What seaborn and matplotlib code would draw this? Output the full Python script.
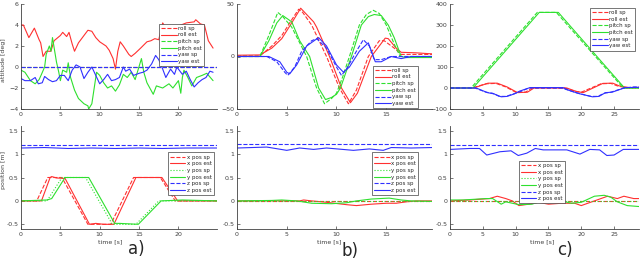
import matplotlib
matplotlib.use("Agg")
import matplotlib.pyplot as plt
import seaborn as sns

# --- Data (time [s], value) ---
# a) attitude [deg]
A_ROLL_SP = [(0, 0), (24.9, 0)]
A_ROLL_EST = [(0, 4.0), (0.3, 4.0), (1.0, 2.8), (1.7, 3.7), (2.3, 2.6), (2.5, 2.3), (2.8, 1.0), (3.2, 1.5),
              (3.8, 1.5), (4.2, 2.5), (5.0, 3.0), (5.3, 3.3), (5.8, 2.9), (6.1, 3.3), (6.5, 2.2), (6.8, 1.5),
              (7.3, 2.3), (8.0, 3.0), (8.5, 3.5), (9.0, 3.4), (9.5, 2.8), (10.0, 2.4), (10.8, 2.0), (11.2, 1.6),
              (11.7, 0.8), (12.0, -0.2), (12.3, 1.5), (12.6, 2.4), (13.0, 2.0), (13.7, 1.2), (14.0, 1.0),
              (14.5, 1.3), (15.2, 1.8), (16.0, 2.4), (16.5, 2.5), (17.0, 2.7), (17.5, 2.6), (18.0, 4.2),
              (18.5, 3.6), (19.0, 3.8), (20.0, 3.9), (21.0, 4.2), (22.0, 4.3), (22.2, 4.5), (22.8, 4.1),
              (23.3, 4.0), (23.8, 2.5), (24.4, 1.8)]
A_PITCH_SP = [(0, 0), (24.9, 0)]
A_PITCH_EST = [(0, -0.3), (0.5, -0.5), (1.2, -1.3), (1.8, -1.6), (2.3, -1.2), (2.6, -0.7), (3.0, 0.0), (3.2, 1.2),
               (3.6, 2.0), (3.8, 1.5), (4.0, 2.8), (4.5, 0.5), (4.8, -0.5), (5.0, -1.3), (5.3, -0.3), (5.8, -0.5),
               (6.0, 0.4), (6.3, -1.0), (6.8, -2.2), (7.3, -3.0), (8.0, -3.5), (8.5, -3.7), (8.6, -4.0),
               (9.0, -3.5), (9.2, -2.5), (9.4, -1.5), (9.6, -0.5), (10.0, -0.8), (10.5, -1.5), (11.0, -2.0),
               (11.5, -1.8), (12.0, -2.3), (12.5, -1.7), (13.0, -0.7), (13.5, -1.0), (14.0, -0.5), (14.5, -1.2),
               (15.3, 0.8), (15.6, -0.5), (16.0, -1.5), (16.8, -2.6), (17.2, -1.8), (18.0, -2.0), (18.8, -1.6),
               (19.3, -2.0), (20.0, -1.3), (20.3, -2.5), (20.5, -1.0), (20.7, -0.3), (21.2, -1.0), (21.7, -1.8),
               (22.3, -1.0), (23.0, -0.8), (23.6, -0.6), (24.4, -1.3)]
A_YAW_SP = [(0, 0), (24.9, 0)]
A_YAW_EST = [(0, -1.1), (0.5, -1.3), (1.2, -1.3), (1.8, -1.0), (2.2, -1.6), (2.7, -1.5), (3.0, -0.9), (3.5, -1.2),
             (4.0, -1.4), (4.5, -1.3), (5.0, -0.8), (5.5, -0.8), (6.0, -1.3), (6.5, -0.3), (7.0, 0.2), (7.5, 0.0),
             (8.0, -1.1), (8.5, -0.5), (9.0, 0.0), (9.5, -0.8), (10.0, -1.6), (10.5, -1.2), (11.0, -0.7),
             (11.5, -1.3), (12.0, -1.2), (12.5, -1.0), (13.0, 0.0), (13.3, -0.4), (13.8, -0.2), (14.3, -0.8),
             (15.0, -0.6), (15.5, -0.5), (16.0, -0.3), (16.6, 0.3), (17.1, 1.1), (17.5, 0.7), (18.0, -0.2),
             (18.4, -1.0), (19.0, -0.2), (19.5, -0.7), (19.8, 0.0), (20.5, -0.7), (21.0, -0.4), (21.5, -1.2),
             (22.0, -1.9), (22.5, -1.5), (23.0, -1.2), (23.5, -1.0), (24.0, -0.4), (24.4, -0.5)]

# b) attitude [deg]
B_ROLL_SP = [(0, 0.5), (2.3, 0.5), (3.5, 10), (4.5, 20), (5.5, 35), (6.2, 45), (6.6, 42), (7.5, 30), (9.0, 0),
             (10.3, -30), (11.2, -45), (12.0, -32), (13.2, 0), (14.3, 15), (14.8, 15), (15.8, 8), (16.5, 2),
             (19.6, 2)]
B_ROLL_EST = [(0, 1.2), (2.3, 1.5), (3.5, 8), (4.5, 17), (5.5, 32), (6.4, 46), (7.0, 40), (7.7, 33), (8.0, 28),
              (9.3, 0), (10.5, -30), (11.4, -44), (12.1, -35), (13.5, 0), (14.9, 17.5), (15.2, 17), (16.0, 8),
              (16.5, 4), (18.0, 3.5), (19.6, 2.5)]
B_PITCH_SP = [(0, 0), (2.3, 0), (3.2, 20), (4.1, 42), (4.6, 38), (5.5, 28), (7.0, 0), (8.0, -30), (8.8, -45),
              (9.5, -40), (10.0, -35), (10.6, -20), (11.3, 0), (12.3, 30), (13.0, 40), (13.7, 44), (14.3, 41),
              (15.0, 30), (15.8, 12), (16.4, 0), (19.6, 0)]
B_PITCH_EST = [(0, 0), (2.3, 0), (3.2, 15), (4.0, 32), (4.6, 39), (5.5, 33), (6.3, 15), (7.3, 0), (8.2, -30),
               (8.9, -41), (9.5, -39), (10.0, -36), (10.4, -30), (11.5, 0), (12.5, 30), (13.2, 38), (13.8, 40),
               (14.5, 39), (15.2, 30), (15.8, 18), (16.5, 0), (17.0, -1), (19.6, -1)]
B_YAW_SP = [(0, 0), (3.0, 0), (4.0, -5), (4.8, -15), (5.1, -18), (5.8, -10), (6.5, 5), (7.5, 15), (8.0, 17),
            (9.0, 8), (10.0, -10), (10.5, -18), (11.0, -12), (12.0, 5), (12.7, 16), (13.3, 10), (13.8, -3),
            (14.5, -3), (15.5, 0), (19.6, 0)]
B_YAW_EST = [(0, 0), (3.2, 0), (4.3, -5), (5.0, -15), (5.3, -16.5), (6.0, -8), (7.0, 10), (8.2, 18), (9.0, 10),
             (10.0, -8), (10.7, -15), (11.3, -10), (12.3, 5), (13.2, 13), (13.9, -5), (14.5, -5), (15.5, 0),
             (16.5, -2), (17.5, 0), (19.6, 0)]

# c) attitude [deg]
C_ROLL_SP = [(0, 0), (3.3, 0), (5.5, 20), (7.0, 22), (8.5, 5), (10.0, -20), (11.5, -20), (12.5, 0), (17.5, 0),
             (19.0, -15), (20.0, -20), (21.5, 0), (23.0, 20), (24.5, 22), (25.5, 10), (27.0, 0), (28.8, 0)]
C_ROLL_EST = [(0, 0), (3.6, 0), (5.8, 23), (7.2, 23), (8.7, 5), (10.3, -22), (11.8, -20), (12.8, 0), (17.8, 0),
              (19.3, -17), (20.3, -22), (21.8, 0), (23.3, 22), (24.8, 23), (25.8, 10), (27.3, 2), (28.8, 3)]
C_PITCH_SP = [(0, 0), (3.2, 0), (13.3, 360), (16.2, 360), (26.4, 0), (28.8, 0)]
C_PITCH_EST = [(0, 0), (3.5, 0), (13.6, 360), (16.5, 360), (26.6, 0), (28.8, 0)]
C_YAW_SP = [(0, 0), (3.8, 0), (5.5, -20), (6.5, -25), (7.5, -40), (8.5, -40), (9.5, -30), (10.5, -20), (12.0, 0),
            (17.0, 0), (18.0, -10), (19.5, -25), (21.5, -40), (22.5, -40), (23.5, -25), (24.5, -20), (26.5, 0),
            (28.0, 5), (28.8, 5)]
C_YAW_EST = [(0, 0), (4.0, 0), (5.7, -22), (6.7, -28), (7.8, -42), (8.7, -40), (9.8, -28), (10.6, -15), (12.2, 2),
             (17.2, 2), (18.2, -12), (19.7, -27), (21.7, -42), (22.7, -40), (23.7, -22), (24.7, -20), (26.7, 2),
             (28.8, 3)]

# a) position [m]
PA_X_SP = [(0, 0), (2.0, 0), (3.4, 0.5), (5.2, 0.5), (8.5, -0.5), (11.4, -0.5), (14.3, 0.5), (17.7, 0.5),
           (19.6, 0), (24.9, 0)]
PA_X_EST = [(0, 0), (2.6, 0), (3.7, 0.5), (3.9, 0.52), (4.5, 0.49), (5.6, 0.48), (8.7, -0.5), (9.5, -0.48),
            (10.5, -0.5), (11.8, -0.5), (14.6, 0.5), (17.9, 0.5), (19.9, 0), (24.9, 0)]
PA_Y_SP = [(0, 0), (3.3, 0), (5.2, 0.5), (8.2, 0.5), (11.6, -0.5), (14.6, -0.5), (17.5, 0), (24.9, 0)]
PA_Y_EST = [(0, 0), (3.3, 0.02), (3.9, 0.05), (5.6, 0.5), (8.6, 0.5), (11.9, -0.48), (12.5, -0.48),
            (14.9, -0.5), (17.8, 0), (20.5, 0.02), (24.9, 0)]
PA_Z_SP = [(0, 1.2), (24.9, 1.2)]
PA_Z_EST = [(0, 1.13), (3, 1.14), (6, 1.12), (9, 1.13), (12, 1.12), (15, 1.13), (18, 1.12), (21, 1.13),
            (24.9, 1.13)]

# b) position [m]
PB_X_SP = [(0, 0), (19.6, 0)]
PB_X_EST = [(0, 0), (6.3, 0), (6.7, 0.02), (7.5, 0), (9, -0.03), (11, -0.08), (12, -0.1), (13.5, -0.07),
            (15, -0.05), (16, -0.05), (17, -0.02), (18, 0), (19.6, 0)]
PB_Y_SP = [(0, 0), (19.6, 0)]
PB_Y_EST = [(0, 0), (3.5, 0.01), (4.5, 0.02), (6, 0), (7.5, -0.05), (9.5, -0.06), (11, -0.04), (12, 0),
            (13.5, 0.04), (15.3, 0.06), (16.5, 0.02), (17.5, 0), (19.6, -0.01)]
PB_Z_SP = [(0, 1.21), (19.6, 1.21)]
PB_Z_EST = [(0, 1.13), (3.0, 1.15), (5.0, 1.08), (6.3, 1.13), (7.7, 1.1), (9.0, 1.13), (11.7, 1.08),
            (13.3, 1.11), (14.7, 1.08), (15.5, 1.14), (17.5, 1.13), (19.6, 1.14)]

# c) position [m]
PC_X_SP = [(0, 0), (28.8, 0)]
PC_X_EST = [(0, 0), (3, 0.02), (6, 0.05), (7.2, 0.1), (8.5, 0.05), (9.5, 0), (10.5, -0.1), (12, -0.07),
            (13.5, -0.03), (15, -0.07), (17, -0.05), (19, -0.05), (20, -0.1), (21, -0.05), (22, 0), (23, 0.05),
            (24, 0.1), (25.5, 0.05), (26.5, 0.1), (28, 0.05), (28.8, 0.05)]
PC_Y_SP = [(0, 0), (28.8, 0)]
PC_Y_EST = [(0, 0.02), (2, 0.02), (5.5, 0.05), (6.5, 0.05), (7.8, -0.07), (8.5, -0.02), (9.5, -0.05),
            (10.5, -0.08), (12.5, -0.07), (14, 0), (15, 0.02), (17, 0), (18.5, -0.05), (20, -0.03), (22, 0.1),
            (23.5, 0.12), (24.5, 0.08), (25.5, -0.02), (27, -0.1), (28.8, -0.12)]
PC_Z_SP = [(0, 1.19), (28.8, 1.19)]
PC_Z_EST = [(0, 1.1), (3, 1.12), (4.5, 1.12), (5.6, 0.98), (7.6, 1.05), (9.3, 1.07), (10.4, 0.97), (11.7, 1.02),
            (13, 1.12), (14.2, 1.09), (17.8, 1.09), (19.8, 1.0), (21.3, 1.1), (22.8, 1.09), (23.9, 0.97),
            (25, 0.98), (26.4, 1.1), (28.8, 1.1)]

ATT_LABELS = ["roll sp", "roll est", "pitch sp", "pitch est", "yaw sp", "yaw est"]
POS_LABELS = ["x pos sp", "x pos est", "y pos sp", "y pos est", "z pos sp", "z pos est"]
X_LIMITS = [24.9, 19.6, 28.8]
ATT_YLIM = [(-4, 6), (-50, 50), (-100, 400)]
ATT_YTICKS = [[-4, -2, 0, 2, 4, 6], [-50, 0, 50], [-100, 0, 100, 200, 300, 400]]
POS_YLIM = (-0.6, 1.6)
POS_YTICKS = [-0.5, 0, 0.5, 1, 1.5]
PANEL_NAMES = ["a)", "b)", "c)"]

RED, GREEN, BLUE = "#ff3030", "#2ee02e", "#3030ff"
STYLES = [(RED, "--"), (RED, "-"), (GREEN, "--"), (GREEN, "-"), (BLUE, "--"), (BLUE, "-")]
POS_STYLES = [(RED, "--"), (RED, "-"), (GREEN, ":"), (GREEN, "-"), (BLUE, "--"), (BLUE, "-")]

sns.set_theme(style="ticks")
plt.rcParams["font.family"] = ["DejaVu Sans"]

fig = plt.figure(figsize=(6.4, 2.8), dpi=100)
col_x = [(21, 217), (237, 432), (450, 639)]
W, H = 640, 280


def add_axes(x0, x1, ytop, ybot):
    return fig.add_axes([x0 / W, 1 - ybot / H, (x1 - x0) / W, (ybot - ytop) / H])


def style_axes(ax, xmax):
    ax.set_xlim(0, xmax)
    ax.set_xticks([t for t in range(0, 30, 5) if t <= xmax])
    ax.tick_params(direction="in", length=2, width=0.5, labelsize=4.5, colors="#404040", pad=1.8)
    for s in ["top", "right"]:
        ax.spines[s].set_visible(False)
    for s in ["left", "bottom"]:
        ax.spines[s].set_linewidth(0.6)
        ax.spines[s].set_color("#404040")
    ax.set_xlabel("")
    ax.set_ylabel("")


def draw(ax, series, styles, labels):
    for data, (c, ls), lab in zip(series, styles, labels):
        t = [p[0] for p in data]
        v = [p[1] for p in data]
        sns.lineplot(x=t, y=v, ax=ax, color=c, linestyle=ls, linewidth=0.8, label=lab)


att_series = [
    [A_ROLL_SP, A_ROLL_EST, A_PITCH_SP, A_PITCH_EST, A_YAW_SP, A_YAW_EST],
    [B_ROLL_SP, B_ROLL_EST, B_PITCH_SP, B_PITCH_EST, B_YAW_SP, B_YAW_EST],
    [C_ROLL_SP, C_ROLL_EST, C_PITCH_SP, C_PITCH_EST, C_YAW_SP, C_YAW_EST],
]
pos_series = [
    [PA_X_SP, PA_X_EST, PA_Y_SP, PA_Y_EST, PA_Z_SP, PA_Z_EST],
    [PB_X_SP, PB_X_EST, PB_Y_SP, PB_Y_EST, PB_Z_SP, PB_Z_EST],
    [PC_X_SP, PC_X_EST, PC_Y_SP, PC_Y_EST, PC_Z_SP, PC_Z_EST],
]
att_leg = [(0.95, 0.84), (0.944, 0.44), (0.995, 0.99)]
pos_leg = [(1.0, 0.77), (0.944, 0.77), (0.624, 0.69)]
time_x = [110, 329, 542]
name_pos = [(136, 249), (350, 251), (565, 250)]

leg_kw = dict(loc="upper right", fontsize=4, handlelength=2.8, labelspacing=0.3, borderpad=0.4,
              handletextpad=0.3, fancybox=False, framealpha=1, edgecolor="#404040")

for i in range(3):
    x0, x1 = col_x[i]
    ax = add_axes(x0, x1, 4, 109)
    draw(ax, att_series[i], STYLES, ATT_LABELS)
    style_axes(ax, X_LIMITS[i])
    ax.set_ylim(*ATT_YLIM[i])
    ax.set_yticks(ATT_YTICKS[i])
    lg = ax.legend(bbox_to_anchor=att_leg[i], **leg_kw)
    lg.get_frame().set_linewidth(0.5)

    ax2 = add_axes(x0, x1, 126, 229)
    draw(ax2, pos_series[i], POS_STYLES, POS_LABELS)
    style_axes(ax2, X_LIMITS[i])
    ax2.set_ylim(*POS_YLIM)
    ax2.set_yticks(POS_YTICKS)
    ax2.set_yticklabels(["-0.5", "0", "0.5", "1", "1.5"])
    lg2 = ax2.legend(bbox_to_anchor=pos_leg[i], **leg_kw)
    lg2.get_frame().set_linewidth(0.5)

    fig.text(time_x[i] / W, 1 - 242 / H, "time [s]", fontsize=4.5, color="#404040", ha="center", va="center")
    fig.text(name_pos[i][0] / W, 1 - name_pos[i][1] / H, PANEL_NAMES[i], fontsize=12, ha="center", va="center")

fig.text(4 / W, 1 - 60 / H, "attitude [deg]", fontsize=4.5, color="#404040", rotation=90, ha="center", va="center")
fig.text(4 / W, 1 - 170 / H, "position [m]", fontsize=4.5, color="#404040", rotation=90, ha="center", va="center")

fig.savefig("out.png", dpi=100)
plt.close(fig)
